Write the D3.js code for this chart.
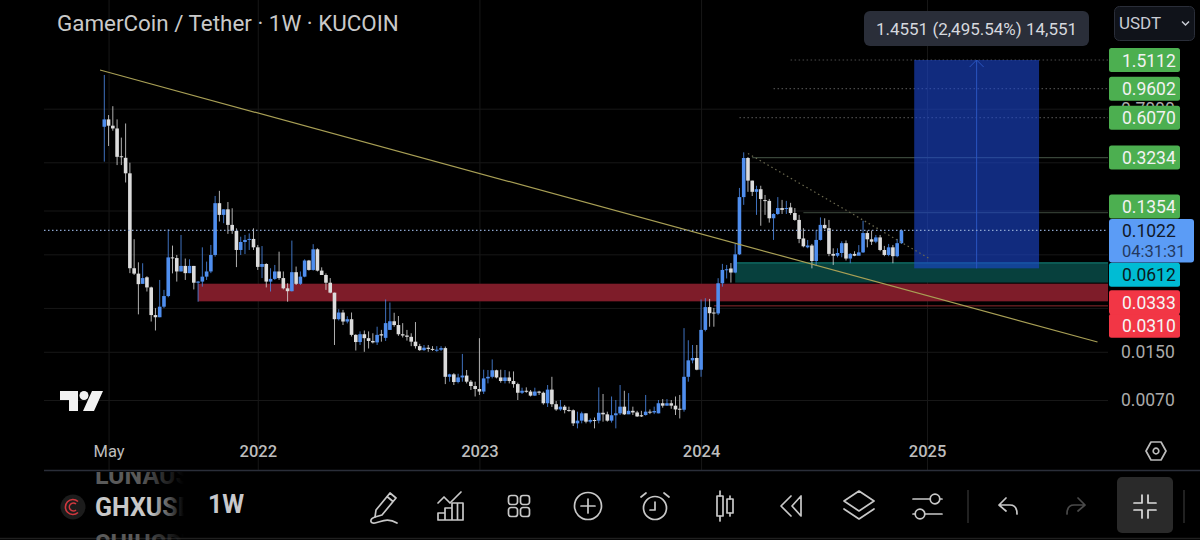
<!DOCTYPE html>
<html>
<head>
<meta charset="utf-8">
<script src="https://cdn.jsdelivr.net/npm/d3@7/dist/d3.min.js"></script>
<style>
  html, body { margin: 0; padding: 0; background: #000; overflow: hidden; }
  text { font-family: Roboto, sans-serif; }
</style>
</head>
<body>
<svg id="chart" width="1200" height="540"></svg>
<script>
// weekly GHX/USDT candles
var firstWeek = new Date(2021, 3, 26);

var opens = [.526,.591,.535,.512,.330,.322,.252,.0562,.0516,.0439,.0487,.0415,.0268,.0259,.0306,.0362,.0667,.0660,.0534,.0583,.0520,.0583,.0447,.0455,.0492,.0534,.0693,.1572,.1306,.1426,.1115,.1014,.0750,.0851,.0879,.0893,.0782,.0574,.0601,.0455,.0475,.0534,.0481,.0409,.0391,.0528,.0439,.0492,.0635,.0547,.0758,.0541,.0505,.0447,.0382,.0251,.0279,.0242,.0251,.0196,.0175,.0198,.0186,.0178,.0174,.0198,.0187,.0212,.0243,.0229,.0198,.0194,.0190,.0176,.0164,.0154,.0160,.0157,.0155,.0155,.0159,.0101,.0105,.0093,.0100,.0103,.00935,.00873,.00833,.0080,.00985,.0101,.0112,.0100,.00945,.0100,.00945,.0090,.00785,.0081,.0080,.0075,.0080,.00785,.00665,.00825,.00655,.00603,.0063,.00597,.00595,.00484,.00505,.00567,.00497,.0051,.00505,.00572,.00558,.00505,.0055,.00567,.0063,.00558,.0059,.00575,.0055,.00552,.00582,.00575,.00567,.00665,.0064,.00665,.0064,.0061,.0060,.0101,.0131,.0136,.0113,.0212,.0304,.0279,.0275,.0443,.0547,.0560,.0525,.0700,.173,.321,.2245,.188,.196,.165,.163,.1238,.1325,.1455,.1435,.1470,.1345,.1206,.0900,.0782,.0805,.0630,.0879,.1115,.1058,.0705,.0685,.0715,.0835,.0655,.0705,.0685,.0722,.098,.0888,.0855,.0915,.075,.0693,.0782,.068,.0835];
var highs = [1.193,.633,.728,.591,.443,.554,.298,.0889,.0617,.0608,.0495,.042,.0299,.0467,.0399,.1041,.0804,.0693,.0951,.0655,.0647,.0583,.046,.0782,.0624,.0812,.1762,.191,.1426,.160,.145,.1056,.0925,.0951,.0975,.1056,.0812,.0798,.0608,.0562,.0592,.073,.0534,.0443,.087,.0577,.0534,.0647,.0641,.0822,.077,.057,.0518,.0481,.0382,.0294,.0291,.0263,.0279,.0198,.0207,.021,.0207,.0201,.0223,.0212,.0343,.0327,.0278,.0264,.0236,.0212,.0201,.024,.017,.0167,.0167,.0164,.0164,.0164,.0163,.0106,.0107,.0106,.0145,.01125,.0096,.00935,.0186,.0113,.01125,.0133,.0113,.0113,.01125,.011,.011,.0092,.0085,.00855,.0082,.0085,.0081,.008,.00887,.0101,.0069,.007,.00647,.0063,.00603,.00582,.00582,.00567,.00523,.00531,.00855,.0077,.00582,.0074,.007,.00887,.0081,.0078,.0063,.0059,.0059,.00758,.00603,.0063,.007,.0071,.0071,.007,.0074,.00758,.0218,.018,.0167,.0167,.0343,.035,.0346,.03,.048,.0602,.0592,.061,.0825,.2,.351,.326,.2245,.207,.207,.179,.168,.134,.173,.1655,.163,.158,.1455,.1306,.1058,.0879,.0825,.103,.1255,.1238,.1206,.077,.077,.086,.0872,.0715,.0735,.081,.119,.102,.102,.0951,.0951,.08,.0825,.0812,.0893,.104];
var lows = [.303,.388,.494,.287,.287,.218,.052,.0505,.0271,.0439,.0389,.0242,.021,.0259,.0299,.0355,.0518,.0455,.0534,.0467,.052,.0402,.0331,.042,.0467,.052,.0675,.1176,.1145,.0967,.0967,.0572,.0693,.0703,.075,.075,.0547,.0481,.0415,.0389,.0467,.0467,.0402,.0331,.0389,.0431,.0431,.0487,.0541,.0541,.0534,.0505,.0399,.0378,.0167,.0246,.0229,.0235,.0191,.0153,.0167,.015,.0158,.0171,.0167,.0176,.0178,.0212,.0223,.0193,.0188,.0179,.0164,.0158,.0152,.0152,.015,.0152,.015,.0152,.009,.00935,.00887,.0091,.00935,.0091,.0082,.0074,.00758,.0077,.0091,.00985,.00985,.0092,.0091,.0091,.0085,.007,.0077,.00785,.0074,.00745,.00758,.0065,.00627,.00627,.0059,.0059,.00567,.00582,.00464,.00447,.00484,.00484,.00484,.00447,.00484,.00497,.00497,.0049,.00447,.00552,.00552,.0056,.00552,.00535,.00535,.00547,.0056,.0056,.00567,.0062,.0064,.0061,.00552,.00523,.00582,.00935,.0125,.0112,.0101,.0207,.0223,.0223,.0268,.042,.0478,.0448,.0519,.0693,.153,.188,.176,.1306,.11,.1306,.1156,.0879,.1306,.1325,.1325,.1306,.119,.0835,.0782,.077,.0561,.0584,.087,.104,.068,.0592,.0668,.0668,.0635,.0608,.068,.0693,.0715,.0782,.0812,.0835,.0735,.068,.068,.0608,.0668,.0825];
var closes = [.591,.535,.512,.327,.327,.252,.0562,.0516,.0437,.0481,.0415,.0268,.0259,.0306,.0362,.0667,.0660,.0534,.0583,.0520,.0583,.0447,.0455,.0492,.0534,.0693,.1572,.1306,.1426,.1115,.1014,.0750,.0851,.0879,.0893,.0782,.0574,.0601,.0455,.0475,.0534,.0481,.0409,.0391,.0528,.0439,.0492,.0635,.0547,.0758,.0541,.0505,.0447,.0382,.0251,.0279,.0242,.0251,.0196,.0175,.0198,.0186,.0178,.0174,.0196,.0194,.0236,.0243,.0229,.0198,.0194,.0190,.0176,.0164,.0154,.0160,.0157,.0155,.0155,.0159,.0101,.0105,.0093,.0100,.0103,.00935,.00873,.00833,.0080,.00985,.0101,.0112,.0100,.00945,.0100,.00945,.0090,.00785,.0081,.0080,.0075,.0080,.00785,.00665,.00825,.00655,.00603,.0063,.00597,.00595,.00484,.00505,.00567,.00497,.0051,.00505,.00572,.00558,.00505,.0055,.00567,.0063,.00558,.0059,.00575,.0054,.0054,.00582,.00575,.00588,.00665,.0064,.00665,.0064,.00603,.0060,.0101,.0131,.0136,.0113,.0212,.0304,.0276,.0275,.0443,.0547,.0553,.0525,.0700,.173,.321,.2245,.188,.196,.168,.163,.1238,.1325,.1455,.1413,.1455,.1345,.1206,.0893,.0795,.0805,.0630,.0879,.1115,.1058,.0705,.0685,.0715,.0835,.0655,.0705,.0685,.0722,.098,.0888,.0855,.0915,.075,.0693,.0782,.068,.0835,.1022];

var gridTicks = [0.7, 0.3, 0.14, 0.07, 0.03, 0.015, 0.007];
var labelTicks = [0.7, 0.015, 0.007];   // the others sit hidden behind the price tags
var xTicks = [new Date(2021, 4, 3), new Date(2022, 0, 3), new Date(2023, 0, 2), new Date(2024, 0, 1), new Date(2025, 0, 6)];
var xTickLabels = ["May", "2022", "2023", "2024", "2025"];

// drawings on the chart
var targetLevels = [1.5112, 0.9602, 0.6070];
var levelStarts = [new Date(2024, 4, 27), new Date(2024, 3, 29), new Date(2024, 2, 4)];
var resistance1 = 0.3234, resistance2 = 0.1354;
var lastPrice = 0.1022, entryPrice = 0.0561;
var greenZone = [0.0612, 0.0448], redZone = [0.0440, 0.0333], stopLine = 0.0310;
var trendDates = [new Date(2021, 3, 19), new Date(2025, 9, 13)], trendPrices = [1.291, 0.0175];
var fallDates = [new Date(2024, 2, 18), new Date(2025, 0, 11)], fallPrices = [0.345, 0.0651];
var boxDates = [new Date(2024, 11, 16), new Date(2025, 6, 9)];

var svg = d3.select("#chart");
var weeks = closes.map(function(d, i) { return d3.timeDay.offset(firstWeek, i * 7); });

var x = d3.scaleTime().domain([firstWeek, new Date(2025, 0, 6)]).range([104.3, 927]);
var y = d3.scaleLog().domain([0.007, 1.5112]).range([400, 60]);
var leftEdge = 44, rightEdge = 1108;

// grid
svg.append("g").attr("transform", "translate(0,470)")
  .call(d3.axisBottom(x).tickValues(xTicks).tickSize(-470).tickFormat(""))
  .call(function(g) {
    g.select(".domain").remove();
    g.selectAll("line").attr("stroke", "#171717");
  });
svg.append("g").attr("transform", "translate(" + leftEdge + ",0)")
  .call(d3.axisRight(y).tickValues(gridTicks).tickSize(rightEdge - leftEdge).tickFormat(""))
  .call(function(g) {
    g.select(".domain").remove();
    g.selectAll("line").attr("stroke", "#171717");
  });

// zones
function zone(from, prices, fill) {
  svg.append("rect")
    .attr("x", x(from)).attr("width", rightEdge - x(from))
    .attr("y", y(prices[0])).attr("height", y(prices[1]) - y(prices[0]))
    .attr("fill", fill);
}
zone(weeks[22], redZone, "#7e1c29");
zone(new Date(2024, 1, 26), greenZone, "#07403d");
svg.append("line").attr("x1", x(new Date(2024, 1, 26))).attr("x2", rightEdge)
  .attr("y1", y(greenZone[0])).attr("y2", y(greenZone[0]))
  .attr("stroke", "#10756d").attr("stroke-width", 1.2);
svg.append("line").attr("x1", x(new Date(2024, 0, 22))).attr("x2", rightEdge)
  .attr("y1", y(stopLine)).attr("y2", y(stopLine))
  .attr("stroke", "#8c2a2d").attr("stroke-width", 1);

// take profit levels
targetLevels.forEach(function(p, i) {
  svg.append("line").attr("x1", x(levelStarts[i])).attr("x2", rightEdge)
    .attr("y1", y(p)).attr("y2", y(p))
    .attr("stroke", "#4a4a4a").attr("stroke-width", 1.2).attr("stroke-dasharray", "1.5 2.5");
});
svg.append("line").attr("x1", x(new Date(2024, 2, 25))).attr("x2", rightEdge)
  .attr("y1", y(resistance1)).attr("y2", y(resistance1))
  .attr("stroke", "#39463a").attr("stroke-width", 1.2);
svg.append("line").attr("x1", x(new Date(2024, 5, 17))).attr("x2", rightEdge)
  .attr("y1", y(resistance2)).attr("y2", y(resistance2))
  .attr("stroke", "#303a30").attr("stroke-width", 1.2);

// candles
var candles = svg.append("g").selectAll("g").data(closes).enter().append("g");
function candleColor(d, i) { return d >= opens[i] ? "#4f8eee" : "#dcdcdc"; }
candles.append("line")
  .attr("x1", function(d, i) { return x(weeks[i]); })
  .attr("x2", function(d, i) { return x(weeks[i]); })
  .attr("y1", function(d, i) { return y(highs[i]); })
  .attr("y2", function(d, i) { return y(lows[i]); })
  .attr("stroke", candleColor).attr("stroke-width", 1).attr("opacity", 0.8);
candles.append("rect")
  .attr("x", function(d, i) { return x(weeks[i]) - 1.8; })
  .attr("width", 3.6)
  .attr("y", function(d, i) { return y(Math.max(d, opens[i])); })
  .attr("height", function(d, i) { return Math.max(1, Math.abs(y(d) - y(opens[i]))); })
  .attr("fill", candleColor);

// long position box
var boxLeft = x(boxDates[0]), boxRight = x(boxDates[1]);
var boxMid = (boxLeft + boxRight) / 2;
svg.append("rect")
  .attr("x", boxLeft).attr("width", boxRight - boxLeft)
  .attr("y", y(targetLevels[0])).attr("height", y(entryPrice) - y(targetLevels[0]))
  .attr("fill", "rgba(28,72,210,.6)");
svg.append("line").attr("x1", boxMid).attr("x2", boxMid)
  .attr("y1", y(targetLevels[0])).attr("y2", y(entryPrice))
  .attr("stroke", "#2a55c0").attr("stroke-width", 1);
svg.append("path")
  .attr("d", "M" + (boxMid - 7) + "," + (y(targetLevels[0]) + 7) + "L" + boxMid + "," + y(targetLevels[0]) + "L" + (boxMid + 7) + "," + (y(targetLevels[0]) + 7))
  .attr("fill", "none").attr("stroke", "#2a55c0");

// trend lines
var trendLine = d3.line().x(function(d) { return x(d[0]); }).y(function(d) { return y(d[1]); });
svg.append("path").attr("d", trendLine(d3.zip(trendDates, trendPrices)))
  .attr("fill", "none").attr("stroke", "#a89f55").attr("stroke-width", 1.2);
svg.append("path").attr("d", trendLine(d3.zip(fallDates, fallPrices)))
  .attr("fill", "none").attr("stroke", "#6c6a50").attr("stroke-width", 1.2).attr("stroke-dasharray", "1.5 3");

// last price line
svg.append("line").attr("x1", leftEdge).attr("x2", rightEdge)
  .attr("y1", y(lastPrice)).attr("y2", y(lastPrice))
  .attr("stroke", "#8ea6d0").attr("stroke-width", 1.2).attr("stroke-dasharray", "1.5 2.5");

// axes text
svg.append("g").attr("transform", "translate(1121,0)")
  .call(d3.axisRight(y).tickValues(labelTicks).tickSize(0).tickPadding(0).tickFormat(d3.format(".4f")))
  .call(function(g) {
    g.select(".domain").remove();
    g.selectAll("text").attr("fill", "#aaaaaa").style("font-size", "17.5px").style("font-family", "Roboto, sans-serif");
  });
svg.append("g").attr("transform", "translate(0,438)")
  .call(d3.axisBottom(x).tickValues(xTicks).tickSize(0).tickPadding(7).tickFormat(function(d, i) { return xTickLabels[i]; }))
  .call(function(g) {
    g.select(".domain").remove();
    g.selectAll("text").attr("fill", "#bdbdbd").style("font-size", "16.5px").style("font-weight", function(d, i) { return i ? 500 : 400; }).style("font-family", "Roboto, sans-serif");
  });

// price tags
function tag(price, dy, fill, textFill) {
  var cy = y(price) + dy;
  svg.append("rect").attr("x", 1109).attr("y", cy - 12).attr("width", 71).attr("height", 24).attr("rx", 2.5).attr("fill", fill);
  svg.append("text").attr("x", 1122).attr("y", cy + 6.5).attr("font-size", 17.5).attr("fill", textFill).text(price.toFixed(4));
}
tag(targetLevels[0], 0, "#4caf50", "#f2f2f2");
tag(targetLevels[1], 0, "#4caf50", "#f2f2f2");
tag(targetLevels[2], 0, "#4caf50", "#f2f2f2");
tag(resistance1, 0, "#4caf50", "#f2f2f2");
tag(resistance2, -6, "#4caf50", "#f2f2f2");
tag(greenZone[0], 12, "#00bcd4", "#0b1a20");
tag(stopLine, 20, "#f23645", "#f5f5f5");
tag(redZone[1], 1, "#f23645", "#f5f5f5");

svg.append("rect").attr("x", 1109).attr("y", 219).attr("width", 85).attr("height", 43.5).attr("rx", 3).attr("fill", "#5b9cf6");
svg.append("text").attr("x", 1122).attr("y", 237).attr("font-size", 17.5).attr("fill", "#101828").text(lastPrice.toFixed(4));
svg.append("text").attr("x", 1122).attr("y", 257).attr("font-size", 16.5).attr("fill", "#23395f").text("04:31:31");

// title and header bits
svg.append("text").attr("x", 57).attr("y", 31).attr("font-size", 22.4).attr("fill", "#c9c9c9").text("GamerCoin / Tether · 1W · KUCOIN");

svg.append("rect").attr("x", 864).attr("y", 11).attr("width", 225).attr("height", 35).attr("rx", 6).attr("fill", "#2a2e39");
svg.append("text").attr("x", 976.5).attr("y", 34.5).attr("text-anchor", "middle").attr("font-size", 17).attr("fill", "#d6d8de").text("1.4551 (2,495.54%) 14,551");

svg.append("rect").attr("x", 1114.5).attr("y", 6.5).attr("width", 80).attr("height", 34).attr("rx", 5).attr("fill", "#10131a").attr("stroke", "#2a2e39");
svg.append("text").attr("x", 1119).attr("y", 29).attr("font-size", 17).attr("fill", "#c9ccd4").text("USDT");
svg.append("path").attr("d", "M1182,21.5l3.5,3.5l3.5,-3.5").attr("fill", "none").attr("stroke", "#c9ccd4").attr("stroke-width", 1.5);

// tradingview logo
svg.append("path").attr("d", "M60,391H78V411H69V400H60Z M92,391H103L94,411H83Z").attr("fill", "#f2f2f2");
svg.append("circle").attr("cx", 84).attr("cy", 395.5).attr("r", 4.5).attr("fill", "#f2f2f2");

// axis settings hexagon
function icon(cx, cy, color) {
  return svg.append("g").attr("transform", "translate(" + cx + "," + cy + ")")
    .attr("fill", "none").attr("stroke", color || "#c8c8c8").attr("stroke-width", 1.7)
    .attr("stroke-linecap", "round").attr("stroke-linejoin", "round");
}
var hex = icon(1156, 451, "#bbbbbb");
hex.append("path").attr("d", "M-10,0L-5,-9H5L10,0L5,9H-5Z");
hex.append("circle").attr("r", 2.8);

// bottom toolbar
svg.append("line").attr("x1", 44).attr("x2", 1200).attr("y1", 470.5).attr("y2", 470.5).attr("stroke", "#2a2e39").attr("stroke-width", 1.5);
svg.append("line").attr("x1", 0).attr("x2", 1200).attr("y1", 538.5).attr("y2", 538.5).attr("stroke", "#1f1f1f").attr("stroke-width", 1.5);

var defs = svg.append("defs");
defs.append("clipPath").attr("id", "listClip").append("rect").attr("x", 90).attr("y", 472).attr("width", 94).attr("height", 68);
var fade = defs.append("linearGradient").attr("id", "listFade").attr("gradientUnits", "userSpaceOnUse")
  .attr("x1", 150).attr("x2", 184).attr("y1", 0).attr("y2", 0);
fade.append("stop").attr("offset", 0).attr("stop-color", "#c8c8c8");
fade.append("stop").attr("offset", 1).attr("stop-color", "#c8c8c8").attr("stop-opacity", 0);
var dimFade = defs.append("linearGradient").attr("id", "dimFade").attr("gradientUnits", "userSpaceOnUse")
  .attr("x1", 140).attr("x2", 184).attr("y1", 0).attr("y2", 0);
dimFade.append("stop").attr("offset", 0).attr("stop-color", "#5a5a5a");
dimFade.append("stop").attr("offset", 1).attr("stop-color", "#5a5a5a").attr("stop-opacity", 0);

var list = svg.append("g").attr("clip-path", "url(#listClip)");
list.append("text").attr("x", 95).attr("y", 484).attr("font-size", 25).attr("font-weight", 700).attr("fill", "url(#dimFade)").text("LUNAUSDT");
list.append("text").attr("x", 95).attr("y", 516).attr("font-size", 25).attr("font-weight", 700).attr("fill", "url(#listFade)").text("GHXUSDT");
list.append("text").attr("x", 95).attr("y", 553).attr("font-size", 25).attr("font-weight", 700).attr("fill", "url(#dimFade)").text("SUIUSDT");

svg.append("circle").attr("cx", 73).attr("cy", 507).attr("r", 12.5).attr("fill", "#1c1c1c");
svg.append("path").attr("d", "M78,501.5A7.5,7.5 0 1 0 78,512.5 M76,504A4,4 0 1 0 76,510")
  .attr("fill", "none").attr("stroke", "#d0383e").attr("stroke-width", 1.6);
svg.append("text").attr("x", 208).attr("y", 513).attr("font-size", 25).attr("font-weight", 700).attr("fill", "#c8c8cc").text("1W");

var pencil = icon(384, 506);
pencil.append("path").attr("d", "M-8,4L6,-13L12,-8L-2,9L-9,11Z M3,-9.5L9,-4.5");
pencil.append("path").attr("d", "M-9,11C-15,13 -14,18 -9,17C-3,16 3,11 13,17");

var chartIcon = icon(451, 506);
chartIcon.append("path").attr("d", "M-13,-3L-7,-9L-1,-3L10,-14");
chartIcon.append("path").attr("d", "M-13,14V7H-6V14Z M-6,14V2H1V14Z M1,14V-3H12V14Z M1,14H12 M6.5,-3V14");

var gridIcon = icon(519, 506);
[-10.5, 1.5].forEach(function(a) {
  [-10.5, 1.5].forEach(function(b) {
    gridIcon.append("rect").attr("x", a).attr("y", b).attr("width", 9).attr("height", 9).attr("rx", 2.5);
  });
});

var plusIcon = icon(588, 506);
plusIcon.append("circle").attr("r", 13.5);
plusIcon.append("path").attr("d", "M-7,0H7M0,-7V7");

var alarm = icon(655, 507);
alarm.append("circle").attr("r", 11.5).attr("cy", 1);
alarm.append("path").attr("d", "M0,-5V3H-5 M-14,-10L-9,-14 M14,-10L9,-14");

var candleIcon = icon(725, 506);
candleIcon.append("rect").attr("x", -8).attr("y", -10).attr("width", 6).attr("height", 20);
candleIcon.append("path").attr("d", "M-5,-15V-10M-5,10V15 M5,-10V-7M5,7V10");
candleIcon.append("rect").attr("x", 2).attr("y", -7).attr("width", 6).attr("height", 14);

var rewind = icon(791, 506);
rewind.append("path").attr("d", "M0,-10L-10,0L0,10 M10,-10V10L1,0L10,-10");

var layers = icon(859, 506);
layers.append("path").attr("d", "M0,-15L15,-5L0,5L-15,-5Z M-15,3L0,13L15,3");

var sliders = icon(927, 506);
sliders.append("path").attr("d", "M-14,-7H3 M13,-7H15 M-14,8H-12 M-2,8H15");
sliders.append("circle").attr("cx", 8).attr("cy", -7).attr("r", 4.8);
sliders.append("circle").attr("cx", -7).attr("cy", 8).attr("r", 4.8);

svg.append("line").attr("x1", 968).attr("x2", 968).attr("y1", 490).attr("y2", 523).attr("stroke", "#2c2c2c").attr("stroke-width", 1.5);
var undo = icon(1008, 506);
undo.append("path").attr("d", "M-9,-1L-2,-8 M-9,-1L-2,5 M-9,-1H2C7,-1 9,3 9,8");
var redo = icon(1076, 506, "#4a4a4a");
redo.append("path").attr("d", "M9,-1L2,-8 M9,-1L2,5 M9,-1H-2C-7,-1 -9,3 -9,8");
svg.append("rect").attr("x", 1117).attr("y", 477).attr("width", 56).attr("height", 56).attr("rx", 5).attr("fill", "#2a2a2a");
var compress = icon(1145, 506, "#dddddd");
compress.append("path").attr("d", "M-11,-3H-3V-11 M11,-3H3V-11 M-11,4H-3V12 M11,4H3V12");
svg.append("line").attr("x1", 1184).attr("x2", 1184).attr("y1", 490).attr("y2", 523).attr("stroke", "#2c2c2c").attr("stroke-width", 1.5);
</script>
</body>
</html>
